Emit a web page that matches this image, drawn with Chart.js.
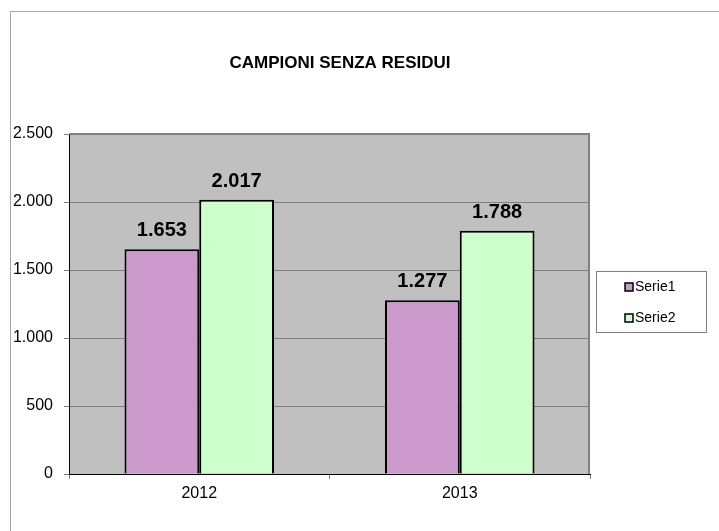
<!DOCTYPE html>
<html>
<head>
<meta charset="utf-8">
<script src="https://cdn.jsdelivr.net/npm/chart.js@4/dist/chart.umd.min.js"></script>
<style>
  html, body { margin: 0; padding: 0; background: #fff; }
  canvas { display: block; }
</style>
</head>
<body>
<canvas id="grafico" width="719" height="531"></canvas>
<script>
// Dati del grafico
const titolo = 'CAMPIONI SENZA RESIDUI';
const anni = ['2012', '2013'];
const serie1 = [1653, 1277];
const serie2 = [2017, 1788];
const nomiSerie = ['Serie1', 'Serie2'];
const coloriSerie = ['#CC99CC', '#CCFFCC'];

const FONT = "'Liberation Sans', Arial, sans-serif";

// formato italiano: 2.500
function formatta(v) {
  return String(v).replace(/\B(?=(\d{3})+(?!\d))/g, '.');
}

// sfondo, cornice, titolo, etichette e legenda
const decorazioni = {
  id: 'decorazioni',
  beforeDraw(chart) {
    const ctx = chart.ctx;
    const a = chart.chartArea;
    ctx.save();
    // cornice esterna
    ctx.strokeStyle = '#a6a6a6';
    ctx.lineWidth = 1;
    ctx.beginPath();
    ctx.moveTo(10.5, 531);
    ctx.lineTo(10.5, 11.5);
    ctx.lineTo(719, 11.5);
    ctx.stroke();
    // area del grafico grigia
    ctx.fillStyle = '#C0C0C0';
    ctx.fillRect(a.left, a.top, a.right - a.left, a.bottom - a.top);
    // titolo
    ctx.fillStyle = '#000';
    ctx.font = 'bold 17px ' + FONT;
    ctx.textAlign = 'center';
    ctx.textBaseline = 'middle';
    ctx.fillText(titolo, 340, 63);
    ctx.restore();
  },
  beforeDatasetsDraw(chart) {
    const ctx = chart.ctx;
    const a = chart.chartArea;
    ctx.save();
    ctx.strokeStyle = '#808080';
    ctx.lineWidth = 2;
    ctx.beginPath();
    ctx.moveTo(a.left, a.top);
    ctx.lineTo(a.right - 1, a.top);
    ctx.lineTo(a.right - 1, a.bottom);
    ctx.stroke();
    ctx.restore();
  },
  afterDatasetsDraw(chart) {
    const ctx = chart.ctx;
    ctx.save();
    ctx.fillStyle = '#000';
    ctx.font = 'bold 20px ' + FONT;
    ctx.textAlign = 'center';
    ctx.textBaseline = 'alphabetic';
    chart.data.datasets.forEach((ds, i) => {
      chart.getDatasetMeta(i).data.forEach((bar, j) => {
        ctx.fillText(formatta(ds.data[j]), bar.x, bar.y - 13);
      });
    });

    // legenda con riquadro
    ctx.strokeStyle = '#808080';
    ctx.lineWidth = 1;
    ctx.strokeRect(596.5, 271.5, 110, 61);
    ctx.font = '14px ' + FONT;
    ctx.textAlign = 'left';
    ctx.textBaseline = 'middle';
    const righe = [287, 318];
    chart.data.datasets.forEach((ds, i) => {
      const y = righe[i];
      ctx.fillStyle = ds.backgroundColor;
      ctx.fillRect(625, y - 4, 8, 8);
      ctx.strokeStyle = '#000';
      ctx.lineWidth = 1.5;
      ctx.strokeRect(625, y - 4, 8, 8);
      ctx.fillStyle = '#000';
      ctx.fillText(ds.label, 635, y);
    });
    ctx.restore();
  }
};

new Chart(document.getElementById('grafico'), {
  type: 'bar',
  data: {
    labels: anni,
    datasets: [
      { label: nomiSerie[0], data: serie1, backgroundColor: coloriSerie[0], borderColor: '#000', borderWidth: 2 },
      { label: nomiSerie[1], data: serie2, backgroundColor: coloriSerie[1], borderColor: '#000', borderWidth: 2 }
    ]
  },
  options: {
    responsive: false,
    animation: false,
    layout: { padding: { top: 134, right: 129, left: 0, bottom: 0 } },
    datasets: { bar: { categoryPercentage: 0.574, barPercentage: 1 } },
    plugins: {
      legend: { display: false },
      title: { display: false },
      tooltip: { enabled: false }
    },
    scales: {
      x: {
        afterFit(scale) { scale.height = 57; },
        grid: { drawOnChartArea: false, drawTicks: true, tickLength: 5, color: '#808080', offset: true },
        border: { color: '#000', width: 1 },
        ticks: { color: '#000', font: { family: FONT, size: 16 }, padding: 5 }
      },
      y: {
        min: 0,
        max: 2500,
        afterFit(scale) { scale.width = 69; },
        grid: { color: '#808080', lineWidth: 1, tickLength: 5 },
        border: { color: '#000', width: 1 },
        ticks: {
          stepSize: 500,
          color: '#000',
          font: { family: FONT, size: 16 },
          padding: 11,
          callback: (v) => formatta(v)
        }
      }
    }
  },
  plugins: [decorazioni]
});
</script>
</body>
</html>
